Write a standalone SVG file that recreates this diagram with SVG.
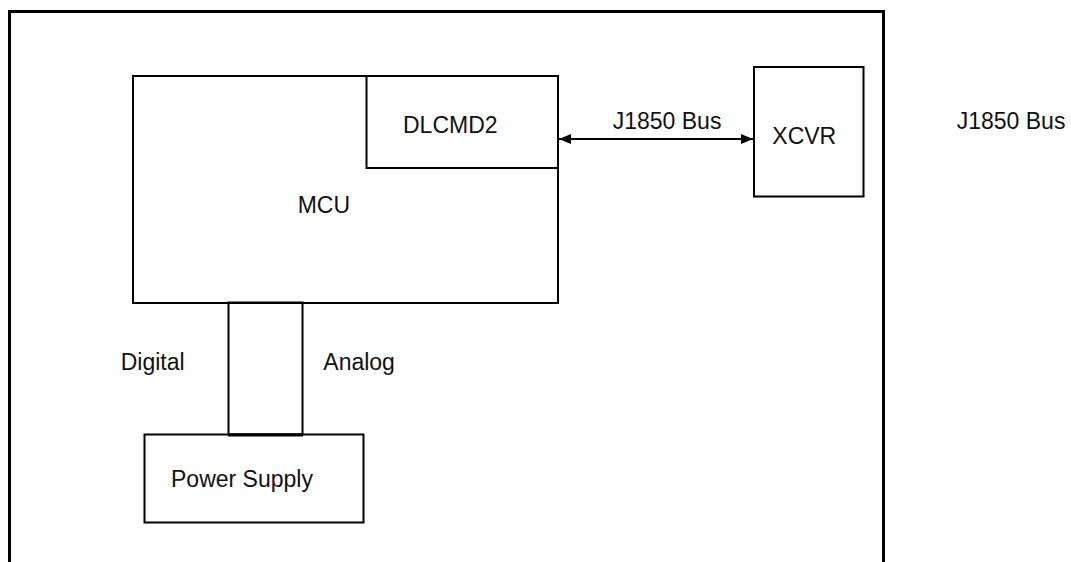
<svg xmlns="http://www.w3.org/2000/svg" width="1071" height="562" viewBox="0 0 1071 562">
  <style>
    .box { fill: none; stroke: #000; stroke-width: 2; }
    .frame { fill: none; stroke: #000; stroke-width: 3; }
    .lbl { font-family: "Liberation Sans", Arial, sans-serif; font-size: 23px; fill: #111; }
    .conn { stroke: #000; stroke-width: 2; fill: none; }
  </style>
  <defs>
    <marker id="ah" viewBox="0 0 12 10" refX="12" refY="5" markerWidth="12" markerHeight="10" markerUnits="userSpaceOnUse" orient="auto-start-reverse">
      <path d="M0,0 L12,5 L0,10 z" fill="#000"/>
    </marker>
  </defs>
  <rect width="1071" height="562" fill="#fff"/>
  <path class="frame" d="M9.5,564 V11.5 H883.5 V564"/>

  <g id="mcu">
    <rect class="box" x="133" y="76" width="425" height="227"/>
    <text class="lbl" x="297.7" y="213.3">MCU</text>
  </g>
  <g id="dlcmd2">
    <rect class="box" x="366.5" y="76" width="191.5" height="92"/>
    <text class="lbl" x="403" y="133.3">DLCMD2</text>
  </g>
  <g id="xcvr">
    <rect class="box" x="754" y="67" width="109.5" height="129.5"/>
    <text class="lbl" x="772.3" y="144.3">XCVR</text>
  </g>
  <g id="power-supply">
    <rect class="box" x="144.5" y="434.5" width="219" height="88"/>
    <text class="lbl" x="171" y="487.3">Power Supply</text>
  </g>
  <g id="supply-link">
    <rect class="box" x="228.5" y="302.5" width="74" height="132"/>
    <line x1="228" y1="435" x2="303" y2="435" stroke="#000" stroke-width="3"/>
    <text class="lbl" x="120.7" y="370">Digital</text>
    <text class="lbl" x="323.3" y="370">Analog</text>
  </g>
  <g id="connectors">
    <line class="conn" x1="559" y1="139" x2="753" y2="139" marker-start="url(#ah)" marker-end="url(#ah)"/>
    <text class="lbl" x="612.7" y="129">J1850 Bus</text>
  </g>
  <g id="bus-label">
    <text class="lbl" x="956.7" y="129">J1850 Bus</text>
  </g>
</svg>
